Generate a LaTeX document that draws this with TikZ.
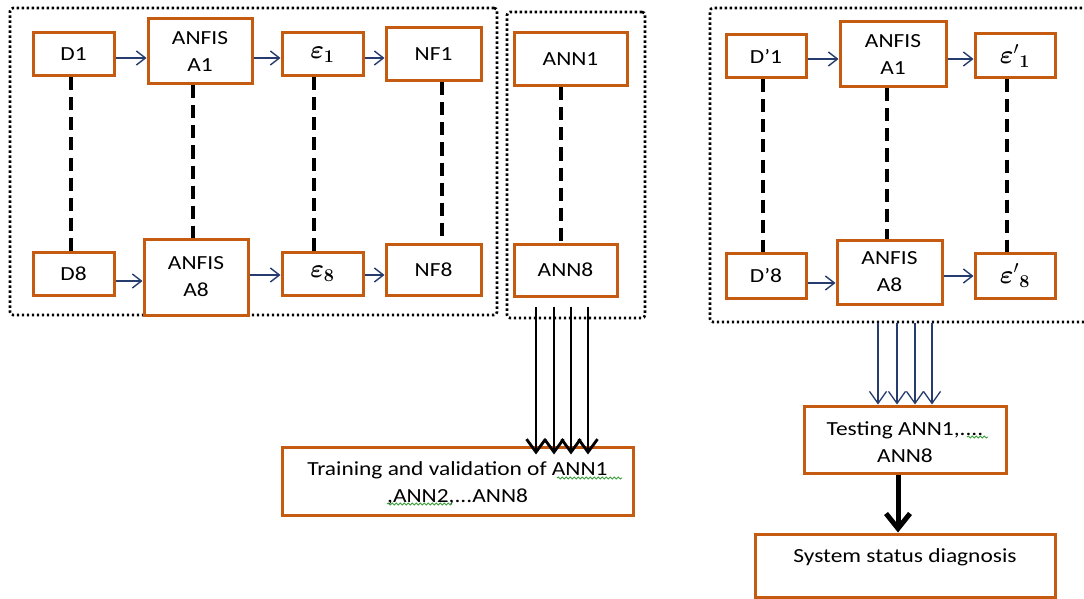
\documentclass[tikz,border=0pt]{standalone}
\usepackage{fontspec}
\usepackage{graphicx}
\usepackage{bm}
\setmainfont{Carlito}
\usetikzlibrary{arrows.meta,decorations.pathmorphing}
\definecolor{boxor}{RGB}{197,90,17}
\definecolor{arblue}{RGB}{38,60,110}
\definecolor{spell}{RGB}{60,160,60}
\newcommand\sx[1]{\scalebox{1.17}[1]{#1}}
\newcommand\epsb[1]{\scalebox{1.25}{$\bm{\varepsilon}_{\bm{#1}}$}}
\newcommand\epsp[1]{\scalebox{1.25}{$\bm{\varepsilon}'{}_{\bm{#1}}$}}
\tikzset{
  box/.style={draw=boxor, line width=3pt, fill=white, inner sep=0pt, align=center,
    font=\fontsize{20}{27}\selectfont},
  grp/.style={draw=black, line width=2.6pt, dash pattern=on 2.4pt off 2.6pt, rounded corners=3pt,
    inner sep=0pt},
  thin arrow/.style={draw=arblue, line width=1.4pt, -{Straight Barb[length=9pt,width=14pt,line width=1.4pt]}},
  vdash/.style={draw=black, line width=3.5pt, dash pattern=on 13pt off 7pt},
  fat arrow/.style={draw=black, line width=2.8pt, -{Straight Barb[length=13pt,width=19pt,line width=2.8pt]}},
  blue arrow/.style={draw=arblue, line width=1.3pt, -{Straight Barb[length=12pt,width=17pt,line width=1.3pt]}},
  big arrow/.style={draw=black, line width=5pt, -{Straight Barb[length=15pt,width=24pt,line width=5pt]}},
  txt/.style={inner sep=0pt, align=center, font=\fontsize{20}{27}\selectfont},
  wavy/.style={draw=spell, line width=0.9pt, decorate, decoration={snake, amplitude=1pt, segment length=4pt}}
}
\begin{document}
\begin{tikzpicture}[x=1pt,y=-1pt]
\useasboundingbox (0,0) rectangle (1084,599);
\clip (0,0) rectangle (1084,599);
\fill[white] (0,0) rectangle (1084,599);

% group frames
\node[grp, minimum width=487pt, minimum height=307pt] (g1) at (253.5,161.5) {};
\node[grp, minimum width=138pt, minimum height=306pt] (g2) at (576,165) {};
\node[grp, minimum width=385pt, minimum height=314pt] (g3) at (902.5,165) {};

% left group
\node[box, minimum width=81pt, minimum height=43pt] (d1) at (73.5,54.5) {\sx{D1}};
\node[box, minimum width=104pt, minimum height=65pt] (a1) at (200,51.5) {\sx{ANFIS}\\\sx{A1}};
\node[box, minimum width=81pt, minimum height=43pt] (e1) at (322.5,54.5) {\epsb{1}};
\node[box, minimum width=95pt, minimum height=53pt] (nf1) at (433.5,54.5) {\sx{NF1}};
\node[box, minimum width=81pt, minimum height=43pt] (d8) at (73.5,273.5) {\sx{D8}};
\node[box, minimum width=104pt, minimum height=76pt] (a8) at (196,277) {\sx{ANFIS}\\\sx{A8}};
\node[box, minimum width=81pt, minimum height=43pt] (e8) at (322.5,273.5) {\epsb{8}};
\node[box, minimum width=95pt, minimum height=51pt] (nf8) at (433.5,269.5) {\sx{NF8}};

\draw[thin arrow] ([yshift=-3.5pt]d1.east) -- ([yshift=-3.5pt]d1.east -| a1.west);
\draw[thin arrow] ([yshift=-3.5pt]e1.west -| a1.east) -- ([yshift=-3.5pt]e1.west);
\draw[thin arrow] ([yshift=-3.5pt]e1.east) -- ([yshift=-3.5pt]e1.east -| nf1.west);
\draw[thin arrow] ([yshift=-7.5pt]d8.east) -- ([yshift=-7.5pt]d8.east -| a8.west);
\draw[thin arrow] ([yshift=-1.5pt]e8.west -| a8.east) -- ([yshift=-1.5pt]e8.west);
\draw[thin arrow] ([yshift=-1.5pt]e8.east) -- ([yshift=-1.5pt]e8.east -| nf8.west);

\draw[vdash] ([xshift=-2.5pt]d1.south) -- ([xshift=-2.5pt]d8.north);
\draw[vdash] ([xshift=-7pt]a1.south) -- ([xshift=-7pt]a1.south |- a8.north);
\draw[vdash] ([xshift=-8.5pt]e1.south) -- ([xshift=-8.5pt]e8.north);
\draw[vdash] ([xshift=8.5pt]nf1.south) -- ([xshift=8.5pt]nf1.south |- nf8.north);

% ANN group
\node[box, minimum width=113pt, minimum height=53pt] (n1) at (570.5,59.5) {\sx{ANN1}};
\node[box, minimum width=103pt, minimum height=52pt] (n8) at (565.5,270) {\sx{ANN8}};
\draw[vdash] ([xshift=-9.5pt]n1.south) -- ([xshift=-9.5pt]n1.south |- n8.north);

\node[box, minimum width=351pt, minimum height=68pt] (tr) at (457.5,481) {};
\node[txt] (trt) at (457.5,483.5) {\sx{Training and validation of ANN1}\\\sx{,ANN2,...ANN8}};
\draw[wavy] (557,478) -- (622,478);
\draw[wavy] (387,504) -- (452,504);

\foreach \dx in {-29.5,-11.5,5.5,22.5}
  \draw[fat arrow] ([xshift=\dx pt, yshift=-9pt]n8.south) -- ([xshift=\dx pt, yshift=-9pt]n8.south |- tr.north);

% right group
\node[box, minimum width=80pt, minimum height=43pt] (p1) at (766,56.5) {\sx{D’1}};
\node[box, minimum width=106pt, minimum height=65pt] (b1) at (893,54.5) {\sx{ANFIS}\\\sx{A1}};
\node[box, minimum width=80pt, minimum height=44pt] (f1) at (1015,56) {\epsp{1}};
\node[box, minimum width=80pt, minimum height=45pt] (p8) at (766,275.5) {\sx{D’8}};
\node[box, minimum width=105pt, minimum height=64pt] (b8) at (889.5,272) {\sx{ANFIS}\\\sx{A8}};
\node[box, minimum width=80pt, minimum height=45pt] (f8) at (1015,275.5) {\epsp{8}};

\draw[thin arrow] ([yshift=-2.5pt]p1.east) -- ([yshift=-2.5pt]p1.east -| b1.west);
\draw[thin arrow] ([yshift=-3pt]f1.west -| b1.east) -- ([yshift=-3pt]f1.west);
\draw[thin arrow] ([yshift=-7.5pt]p8.east) -- ([yshift=-7.5pt]p8.east -| b8.west);
\draw[thin arrow] ([yshift=-0.5pt]f8.west -| b8.east) -- ([yshift=-0.5pt]f8.west);

\draw[vdash] ([xshift=-3pt]p1.south) -- ([xshift=-3pt]p8.north);
\draw[vdash] ([xshift=-6pt]b1.south) -- ([xshift=-6pt]b1.south |- b8.north);
\draw[vdash] ([xshift=-8pt]f1.south) -- ([xshift=-8pt]f8.north);

\node[box, minimum width=202pt, minimum height=67pt] (te) at (905,439.5) {};
\node[txt] (tet) at (905,442.5) {\sx{Testing ANN1,....}\\\sx{ANN8}};
\draw[wavy] (967,437) -- (988,437);

\foreach \dx in {-27,-8,10,27}
  \draw[blue arrow] ([xshift=\dx pt]te.north |- g3.south) -- ([xshift=\dx pt]te.north);

\node[box, minimum width=300pt, minimum height=63pt] (sy) at (905,565.5) {};
\node[txt] (syt) at (905,557) {\sx{System status diagnosis}};
\draw[big arrow] ([xshift=-7pt]te.south) -- ([xshift=-7pt]te.south |- sy.north);
\end{tikzpicture}
\end{document}
